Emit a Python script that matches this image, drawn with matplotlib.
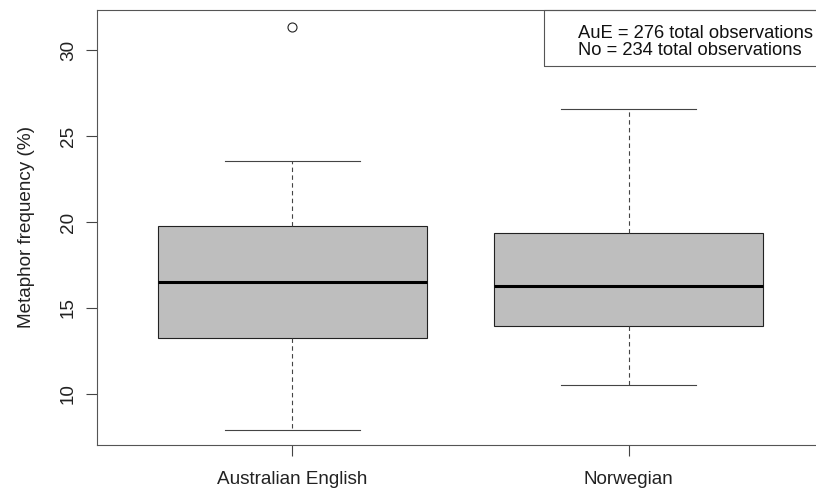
import matplotlib.pyplot as plt

plt.rcParams["font.family"] = ["Liberation Sans", "DejaVu Sans"]

groups = ["Australian English", "Norwegian"]
q1 = [13.26, 13.95]
medians = [16.51, 16.28]
q3 = [19.77, 19.36]
whisker_low = [7.91, 10.52]
whisker_high = [23.55, 26.56]
outliers = [[31.34], []]
legend_lines = ["AuE = 276 total observations", "No = 234 total observations"]

stats = []
for i, name in enumerate(groups):
    stats.append({
        "label": name,
        "q1": q1[i], "med": medians[i], "q3": q3[i],
        "whislo": whisker_low[i], "whishi": whisker_high[i],
        "fliers": outliers[i],
    })

fig = plt.figure(figsize=(8.16, 4.9), dpi=100)
ax = fig.add_axes([97 / 816, 45 / 490, 727 / 816, 435 / 490])

ax.bxp(
    stats, positions=[1, 2], widths=0.8, patch_artist=True,
    boxprops=dict(facecolor="#bebebe", edgecolor="#222222", linewidth=0.8),
    medianprops=dict(color="black", linewidth=2.2),
    whiskerprops=dict(color="#444444", linewidth=0.8, linestyle=(0, (4, 3))),
    capprops=dict(color="#444444", linewidth=0.8),
    capwidths=0.4,
    flierprops=dict(marker="o", markerfacecolor="none", markeredgecolor="#222222",
                    markersize=6.5, markeredgewidth=0.8),
)

ax.set_xlim(0.42, 2.58)
ax.set_ylim(7.03, 32.33)
ax.set_yticks([10, 15, 20, 25, 30])
ax.set_yticklabels(["10", "15", "20", "25", "30"], rotation=90, va="center")
ax.set_xticks([1, 2])
ax.set_xticklabels(groups)
ax.tick_params(axis="both", labelsize=13.6, length=8, width=0.8, color="#444444",
               labelcolor="#222222")
ax.tick_params(axis="x", pad=10.5)
ax.tick_params(axis="y", pad=6.5)
ax.set_ylabel("Metaphor frequency (%)", fontsize=13.6, color="#222222", labelpad=18)

for s in ax.spines.values():
    s.set_color("#555555")
    s.set_linewidth(0.8)

# legend box in the top-right corner, like R's legend("topright")
ax.add_patch(plt.Rectangle((0.6149, 0.871), 0.3851, 0.129, transform=ax.transAxes,
                           fill=False, edgecolor="#555555", linewidth=0.8,
                           clip_on=False))
ax.text(0.6616, 0.946, legend_lines[0], transform=ax.transAxes, va="center",
        ha="left", fontsize=13.2, color="#111111")
ax.text(0.6616, 0.906, legend_lines[1], transform=ax.transAxes, va="center",
        ha="left", fontsize=13.2, color="#111111")

fig.savefig("out.png", dpi=100)
